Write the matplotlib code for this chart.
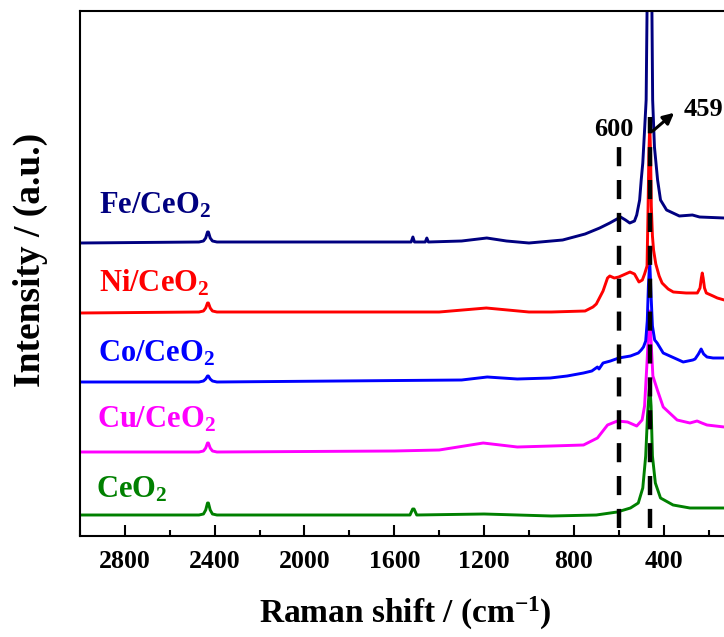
import matplotlib
matplotlib.use("Agg")
import matplotlib.pyplot as plt
from matplotlib.ticker import MultipleLocator

plt.rcParams['font.family'] = ['Liberation Serif', 'DejaVu Serif']
plt.rcParams['font.weight'] = 'bold'
plt.rcParams['mathtext.fontset'] = 'custom'
plt.rcParams['mathtext.rm'] = 'Liberation Serif:bold'
plt.rcParams['mathtext.bf'] = 'Liberation Serif:bold'
plt.rcParams['mathtext.it'] = 'Liberation Serif:bold'

# ---- data (Raman shift in cm-1, stacked intensity in a.u.) ----
fe_x = [3000, 2470, 2450, 2440, 2432, 2428, 2420, 2410, 2390, 2000, 1525, 1517, 1510, 1462, 1455, 1448,
        1300, 1188, 1100, 1000, 850, 750, 685, 640, 600, 592, 570, 551, 530, 520, 507, 500, 493, 485,
        478, 474, 470, 466, 462, 458, 455, 449, 441, 427, 414, 387, 330, 272, 240, 130]
fe_y = [293, 294, 295, 298, 304, 304, 298, 295, 294, 294, 294, 299, 294, 294, 298, 294,
        295, 298, 295, 293, 296, 302, 308, 313, 318, 319, 316, 313, 315, 321, 336, 356, 373, 406,
        436, 525, 650, 850, 950, 850, 600, 436, 389, 356, 336, 326, 320, 321, 319, 318]

ni_x = [3000, 2470, 2450, 2440, 2432, 2428, 2420, 2410, 2390, 1400, 1190, 1000, 900, 750, 715, 700,
        670, 650, 640, 620, 600, 570, 550, 530, 510, 495, 485, 474, 470, 466, 462, 458, 455, 450,
        445, 435, 420, 407, 380, 357, 300, 250, 238, 232, 228, 224, 218, 210, 180, 161, 130]
ni_y = [223, 224, 225, 228, 233, 233, 228, 225, 224, 224, 228, 224, 224, 225, 229, 232,
        245, 258, 260, 258, 259, 262, 264, 262, 254, 256, 262, 270, 320, 380, 412, 380, 330, 300,
        286, 272, 260, 253, 247, 244, 243, 243, 248, 258, 263, 258, 248, 243, 240, 238, 236]

co_x = [3000, 2470, 2450, 2440, 2432, 2428, 2420, 2410, 2390, 1300, 1186, 1052, 905, 830, 757, 720,
        695, 688, 670, 637, 600, 548, 513, 500, 490, 480, 473, 468, 462, 456, 450, 440, 429, 402,
        313, 270, 260, 245, 233, 222, 207, 180, 130]
co_y = [154, 154, 155, 157, 160, 160, 157, 155, 154, 156, 159, 157, 158, 160, 163, 165,
        169, 167, 173, 175, 178, 180, 183, 186, 189, 195, 215, 250, 275, 240, 210, 196, 193, 183,
        174, 176, 177, 182, 187, 182, 179, 178, 178]

cu_x = [3000, 2470, 2450, 2440, 2432, 2428, 2420, 2410, 2390, 1600, 1400, 1204, 1052, 900, 757, 695,
        650, 606, 561, 520, 496, 485, 475, 468, 462, 455, 448, 428, 402, 340, 283, 251, 230, 207, 130]
cu_y = [84, 84, 85, 88, 93, 93, 88, 85, 84, 85, 86, 93, 89, 90, 91, 98,
        111, 115, 114, 110, 116, 130, 170, 200, 225, 190, 160, 146, 129, 116, 113, 115, 113, 111, 109]

ce_x = [3000, 2470, 2450, 2440, 2432, 2428, 2420, 2410, 2390, 1530, 1518, 1512, 1500, 1200, 900, 700,
        607, 548, 513, 493, 480, 472, 466, 462, 456, 450, 437, 414, 358, 283, 130]
ce_y = [21, 21, 22, 26, 33, 33, 26, 22, 21, 21, 27, 27, 21, 22, 20, 21,
        24, 28, 33, 48, 80, 120, 140, 152, 130, 80, 53, 38, 31, 28, 28]

series = [
    ("CeO$_{2}$", ce_x, ce_y, "#008000", 2930, 39),
    ("Cu/CeO$_{2}$", cu_x, cu_y, "#FF00FF", 2926, 108),
    ("Co/CeO$_{2}$", co_x, co_y, "#0000FF", 2921, 174),
    ("Ni/CeO$_{2}$", ni_x, ni_y, "#FF0000", 2917, 244),
    ("Fe/CeO$_{2}$", fe_x, fe_y, "#000080", 2917, 323),
]

ref_lines = [600, 459]
ref_tops = [390, 419]
ref_bottom = 8

# ---- figure ----
W, H = 724, 637
fig = plt.figure(figsize=(W / 100, H / 100), dpi=100)
ax_left, ax_right, ax_top, ax_bot = 80, 731, 11, 536
ax = fig.add_axes([ax_left / W, 1 - ax_bot / H, (ax_right - ax_left) / W, (ax_bot - ax_top) / H])

for name, xs, ys, col, tx, ty in series:
    ax.plot(xs, ys, color=col, lw=2.1, solid_joinstyle='round', zorder=2)
    ax.text(tx, ty, name, color=col, fontsize=22, fontweight='bold', ha='left', va='baseline', zorder=4)

for xv, yt in zip(ref_lines, ref_tops):
    ax.vlines(xv, ref_bottom, yt, colors='black', lw=3.2, linestyles=(0, (4.3, 3.1)), zorder=3)

ax.text(624, 407, "600", fontsize=19, fontweight='bold', ha='center', va='center', zorder=4)
ax.annotate("", xy=(344, 425), xytext=(459, 403),
            arrowprops=dict(arrowstyle='-|>', color='black', lw=2.2, mutation_scale=16), zorder=4)
ax.text(313, 426, "459", fontsize=19, fontweight='bold', ha='left', va='center', zorder=4)

ax.set_xlim(3000, 100)
ax.set_ylim(0, 525)
ax.xaxis.set_major_locator(MultipleLocator(400))
ax.xaxis.set_minor_locator(MultipleLocator(200))
ax.set_xticks([2800, 2400, 2000, 1600, 1200, 800, 400])
ax.tick_params(axis='x', which='major', direction='in', length=8, width=1.5, labelsize=18.5, pad=10)
ax.tick_params(axis='x', which='minor', direction='in', length=4, width=1.5)
ax.set_yticks([])
for s in ax.spines.values():
    s.set_linewidth(1.5)

ax.set_xlabel(r"Raman shift / (cm$^{-1}$)", fontsize=24, fontweight='bold', labelpad=16)
fig.text(30 / W, 1 - 260 / H, "Intensity / (a.u.)", fontsize=27, fontweight='bold',
         rotation=90, ha='center', va='center')

fig.savefig("out.png", dpi=100)
